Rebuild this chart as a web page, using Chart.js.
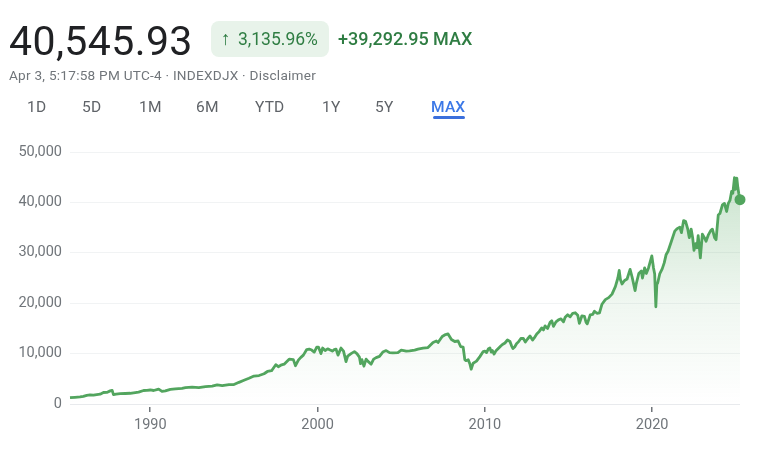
<!DOCTYPE html>
<html>
<head>
<meta charset="utf-8">
<script src="https://cdn.jsdelivr.net/npm/chart.js@4"></script>
<style>
  body { margin: 0; background: #fff; font-family: Roboto, sans-serif; }
  #wrap { position: relative; width: 768px; height: 451px; overflow: hidden; }
  #wrap div { position: absolute; white-space: nowrap; }
  #price { left: 9px; top: 19px; font-size: 41px; line-height: 44px; color: #202124; letter-spacing: 0.4px; }
  #badge { left: 211px; top: 21px; width: 118px; height: 36px; background: #e8f3ea; border-radius: 8px; }
  #arrow { left: 221px; top: 28px; font-size: 19px; line-height: 22px; color: #2f7d43; }
  #pct { left: 238px; top: 29px; font-size: 17.5px; line-height: 20px; color: #2f7d43; }
  #change { left: 338px; top: 29px; font-size: 18px; line-height: 20px; color: #2f7d43; font-weight: 500; }
  #sub { left: 9px; top: 67px; font-size: 13.6px; line-height: 16px; color: #70757a; letter-spacing: 0.25px; }
  .tab { top: 98px; font-size: 15.5px; line-height: 18px; color: #5f6368; letter-spacing: 0.2px; }
  .tab.on { color: #3b78e7; font-weight: 500; }
  #underline { left: 433px; top: 116px; width: 32px; height: 3px; background: #3b6fdc; border-radius: 2px; }
  canvas { position: absolute; left: 0; top: 0; }
</style>
</head>
<body>
<div id="wrap">
  <canvas id="chart" width="768" height="451"></canvas>
  <div id="price">40,545.93</div>
  <div id="badge"></div>
  <div id="arrow">↑</div>
  <div id="pct">3,135.96%</div>
  <div id="change">+39,292.95 MAX</div>
  <div id="sub">Apr 3, 5:17:58 PM UTC-4 · INDEXDJX · Disclaimer</div>
  <div id="underline"></div>
</div>
<script>
const tabLabels = ['1D', '5D', '1M', '6M', 'YTD', '1Y', '5Y', 'MAX'];
const tabLefts = [27, 82, 139, 196, 255, 322, 375, 431];
const yearTicks = [1990, 2000, 2010, 2020];

// decimal years and index points
const years = [
  1985.2, 1985.5, 1985.8, 1986.0, 1986.2, 1986.4, 1986.6, 1986.8, 1987.0, 1987.2, 1987.4, 1987.6, 1987.72, 1987.8,
  1987.95, 1988.2, 1988.5, 1988.8, 1989.0, 1989.3, 1989.6, 1989.8, 1990.0, 1990.2, 1990.5, 1990.7, 1990.9, 1991.2,
  1991.5, 1991.9, 1992.1, 1992.5, 1992.9, 1993.3, 1993.7, 1994.0, 1994.3, 1994.7, 1995.0, 1995.3, 1995.6, 1995.9,
  1996.2, 1996.5, 1996.8, 1997.0, 1997.25, 1997.5, 1997.65, 1997.8, 1998.0, 1998.3, 1998.55, 1998.68, 1998.85, 1999.0,
  1999.15, 1999.35, 1999.5, 1999.65, 1999.8, 1999.95, 2000.05, 2000.2, 2000.3, 2000.45, 2000.6, 2000.75, 2000.9, 2001.0,
  2001.1, 2001.22, 2001.4, 2001.55, 2001.7, 2001.8, 2002.0, 2002.2, 2002.35, 2002.5, 2002.57, 2002.65, 2002.77, 2002.9,
  2003.0, 2003.2, 2003.35, 2003.5, 2003.7, 2003.9, 2004.1, 2004.3, 2004.5, 2004.8, 2005.0, 2005.3, 2005.5, 2005.8,
  2006.0, 2006.3, 2006.6, 2006.9, 2007.1, 2007.2, 2007.45, 2007.6, 2007.8, 2008.0, 2008.2, 2008.4, 2008.55, 2008.7,
  2008.8, 2008.87, 2009.0, 2009.1, 2009.18, 2009.3, 2009.5, 2009.7,
  2009.9, 2010.0, 2010.1, 2010.2, 2010.3, 2010.38, 2010.45, 2010.55, 2010.65, 2010.8, 2010.95,
  2011.05, 2011.2, 2011.35, 2011.5, 2011.6, 2011.68, 2011.78, 2011.9, 2012.0, 2012.15,
  2012.3, 2012.42, 2012.55, 2012.7, 2012.85, 2012.95, 2013.1, 2013.25, 2013.4, 2013.5,
  2013.6, 2013.75, 2013.9, 2014.0, 2014.1, 2014.25, 2014.4, 2014.55, 2014.7, 2014.8,
  2014.95, 2015.1, 2015.25, 2015.4, 2015.55, 2015.65, 2015.8, 2015.95, 2016.05, 2016.12,
  2016.3, 2016.45, 2016.55, 2016.7, 2016.85, 2017.0, 2017.2, 2017.4, 2017.6, 2017.8, 2017.95,
  2018.03, 2018.1, 2018.2, 2018.35, 2018.5, 2018.68, 2018.8,
  2018.98, 2019.05, 2019.2, 2019.35, 2019.42, 2019.55, 2019.65, 2019.78, 2019.98, 2020.08, 2020.15, 2020.22, 2020.28,
  2020.33, 2020.45, 2020.6, 2020.72, 2020.83, 2020.95, 2021.15, 2021.35, 2021.5, 2021.65, 2021.75, 2021.88, 2022.0,
  2022.12, 2022.22, 2022.33, 2022.42, 2022.5, 2022.6, 2022.68, 2022.75, 2022.88, 2023.0, 2023.12, 2023.22, 2023.35,
  2023.5, 2023.6, 2023.73, 2023.82, 2023.95, 2024.05, 2024.2, 2024.32, 2024.45, 2024.55, 2024.65, 2024.75, 2024.82,
  2024.92, 2024.98, 2025.06, 2025.12, 2025.18, 2025.25
];
const closes = [
  1250, 1320, 1400, 1530, 1720, 1810, 1780, 1880, 1950, 2280, 2300, 2600, 2700, 1850,
  1950, 2050, 2080, 2130, 2220, 2350, 2680, 2700, 2780, 2680, 2950, 2500, 2600, 2900,
  3000, 3100, 3250, 3350, 3250, 3450, 3550, 3800, 3650, 3850, 3850, 4300, 4700, 5100,
  5550, 5650, 6000, 6450, 6600, 7800, 7400, 7700, 7900, 8900, 8800, 7600, 8700, 9250,
  9700, 10800, 10900, 10700, 10300, 11300, 11300, 10000, 11100, 10600, 10950, 10700, 10500, 10800,
  10900, 9700, 11100, 10500, 8400, 9500, 10000, 10400, 10000, 9300, 8000, 8800, 7500, 8900,
  8500, 7900, 8900, 9200, 9450, 10300, 10600, 10200, 10150, 10200, 10700, 10500, 10550, 10700,
  10900, 11100, 11200, 12200, 12500, 12200, 13400, 13700, 13900, 12800, 12400, 12500, 11400, 11300,
  8800, 8600, 8800, 8000, 6900, 8100, 8500, 9400,
  10400, 10500, 10200, 10900, 11100, 10300, 10600, 9900, 10500, 11000, 11500,
  11800, 12100, 12700, 12400, 11500, 11000, 11300, 12000, 12300, 13000,
  13000, 12300, 12900, 13500, 12700, 13100, 13900, 14400, 15100, 14700,
  15500, 15000, 16200, 16500, 15400, 16300, 16700, 16900, 16300, 17200,
  17700, 17300, 18000, 18100, 17600, 16000, 17500, 17400, 16200, 15900,
  17700, 17800, 18400, 18000, 18100, 19800, 20700, 21100, 21800, 23300, 25000,
  26500, 24700, 23800, 24500, 24800, 26700, 25200,
  22500, 23900, 25900, 26400, 25000, 27000, 25900, 27000, 29400, 27000, 25800, 19300, 23800,
  24000, 25800, 26800, 28000, 29600, 30300, 32300, 34300, 34800, 35100, 34000, 36400, 36200,
  34800, 33000, 34700, 33000, 30500, 31800, 31000, 33400, 29000, 33700, 33000, 32300, 33500,
  34400, 34700, 33000, 32600, 37500, 37800, 39500, 39800, 38200, 39800, 40400, 42200, 41800,
  44900, 42600, 44800, 43000, 41700, 40545.93
];

// header tabs over the chart
const wrap = document.getElementById('wrap');
tabLabels.forEach((label, i) => {
  const tab = document.createElement('div');
  tab.className = label === 'MAX' ? 'tab on' : 'tab';
  tab.style.left = tabLefts[i] + 'px';
  tab.textContent = label;
  wrap.appendChild(tab);
});

// little marks under the axis, a few px below the zero line
const yearMarks = {
  id: 'yearMarks',
  afterDraw(chart) {
    const { ctx, scales } = chart;
    ctx.save();
    ctx.fillStyle = '#70757a';
    yearTicks.forEach(y => {
      ctx.fillRect(Math.round(scales.x.getPixelForValue(y)) - 1, scales.y.bottom + 3, 1.5, 5);
    });
    ctx.restore();
  }
};

function areaFill(context) {
  const area = context.chart.chartArea;
  if (!area) return 'transparent';
  const grad = context.chart.ctx.createLinearGradient(0, area.top + 25, 0, area.bottom);
  grad.addColorStop(0, 'rgba(82,165,94,0.3)');
  grad.addColorStop(0.55, 'rgba(82,165,94,0.09)');
  grad.addColorStop(1, 'rgba(82,165,94,0)');
  return grad;
}

new Chart(document.getElementById('chart').getContext('2d'), {
  type: 'line',
  data: {
    labels: years,
    datasets: [{
      data: years.map((y, i) => ({ x: y, y: closes[i] })),
      borderColor: '#52a55e',
      borderWidth: 2.8,
      borderJoinStyle: 'round',
      backgroundColor: areaFill,
      fill: 'origin',
      tension: 0,
      clip: false,
      pointRadius: ctx => (ctx.dataIndex === years.length - 1 ? 5.5 : 0),
      pointBackgroundColor: '#52a55e',
      pointBorderWidth: 0
    }]
  },
  options: {
    responsive: false,
    animation: false,
    layout: { padding: { top: 152, right: 28, left: 0, bottom: 0 } },
    plugins: { legend: { display: false }, tooltip: { enabled: false } },
    scales: {
      x: {
        type: 'linear',
        min: 1985.2,
        max: 2025.25,
        afterFit: scale => { scale.height = 47; },
        afterBuildTicks: axis => { axis.ticks = yearTicks.map(v => ({ value: v })); },
        grid: { display: false },
        border: { display: false },
        ticks: {
          color: '#70757a',
          font: { family: 'Roboto', size: 14.5 },
          padding: 5,
          maxRotation: 0,
          callback: v => String(v)
        }
      },
      y: {
        min: 0,
        max: 50000,
        afterFit: scale => { scale.width = 70; },
        grid: {
          color: ctx => (ctx.tick.value === 0 ? '#e8eaed' : '#f1f3f4'),
          lineWidth: 1,
          drawTicks: false
        },
        border: { display: false },
        ticks: {
          stepSize: 10000,
          color: '#70757a',
          font: { family: 'Roboto', size: 14.5 },
          padding: 8,
          callback: v => v.toLocaleString('en-US')
        }
      }
    }
  },
  plugins: [yearMarks]
});
</script>
</body>
</html>
